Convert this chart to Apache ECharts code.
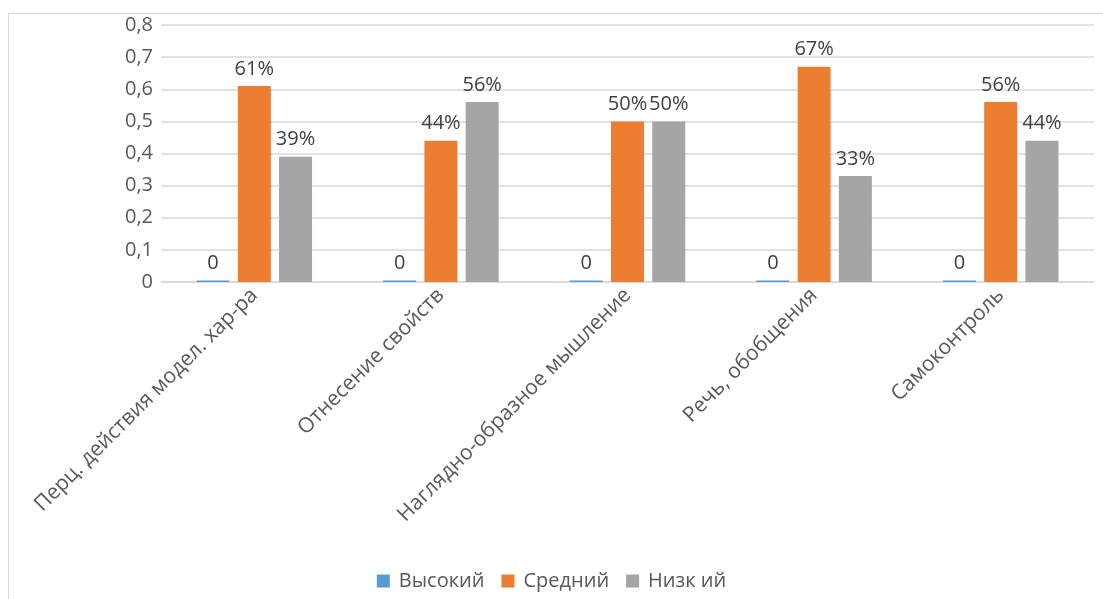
<!DOCTYPE html>
<html>
<head>
<meta charset="utf-8">
<script src="https://cdn.jsdelivr.net/npm/echarts@6/dist/echarts.min.js"></script>
<style>
html,body{margin:0;padding:0;background:#fff;overflow:hidden;}
#frame{position:absolute;left:8px;top:13px;width:1120px;height:620px;border:1px solid #d9d9d9;box-sizing:border-box;}
#chart{position:absolute;left:0;top:0;width:1103px;height:599px;}
</style>
</head>
<body>
<div id="frame"></div>
<div id="chart"></div>
<script>
const categories = ['Перц. действия модел. хар-ра','Отнесение свойств','Наглядно-образное мышление','Речь, обобщения','Самоконтроль'];
const seriesNames = ['Высокий','Средний','Низк ий'];
const high = [0,0,0,0,0];
const mid = [0.61,0.44,0.50,0.67,0.56];
const low = [0.39,0.56,0.50,0.33,0.44];
const yTicks = {min:0,max:0.8,interval:0.1};

const font = '"Open Sans", sans-serif';
const txt = '#595959';
const chart = echarts.init(document.getElementById('chart'));
function pct(p){ return Math.round(p.value*100)+'%'; }
const lbl = {show:true,position:'top',distance:7,fontSize:20,color:'#404040',fontFamily:font};
chart.setOption({
  animation:false,
  grid:{left:161,right:9,top:25,bottom:317,containLabel:false},
  legend:{bottom:3,left:'center',itemWidth:13,itemHeight:13,itemGap:17,icon:'rect',
    textStyle:{fontSize:20,color:txt,fontFamily:font,padding:[0,0,0,4]},data:seriesNames},
  xAxis:{type:'category',data:categories,
    axisLine:{lineStyle:{color:'#d9d9d9',width:1.5}},axisTick:{show:false},
    axisLabel:{rotate:45,fontSize:21,color:txt,fontFamily:font,margin:10,interval:0}},
  yAxis:{type:'value',min:yTicks.min,max:yTicks.max,interval:yTicks.interval,
    axisLine:{show:false},axisTick:{show:false},
    splitLine:{lineStyle:{color:'#d9d9d9',width:1.5}},
    axisLabel:{fontSize:20,color:txt,fontFamily:font,margin:8,
      formatter:v=>String(Math.round(v*10)/10).replace('.',',')}},
  series:[
    {name:seriesNames[0],type:'bar',data:high,barWidth:33,barGap:'25%',barMinHeight:1.5,
      itemStyle:{color:'#5b9bd5'},label:Object.assign({},lbl,{formatter:p=>String(p.value)})},
    {name:seriesNames[1],type:'bar',data:mid,barWidth:33,barGap:'25%',
      itemStyle:{color:'#ed7d31'},label:Object.assign({},lbl,{formatter:pct})},
    {name:seriesNames[2],type:'bar',data:low,barWidth:33,barGap:'25%',
      itemStyle:{color:'#a5a5a5'},label:Object.assign({},lbl,{formatter:pct})}
  ]
});
</script>
</body>
</html>
